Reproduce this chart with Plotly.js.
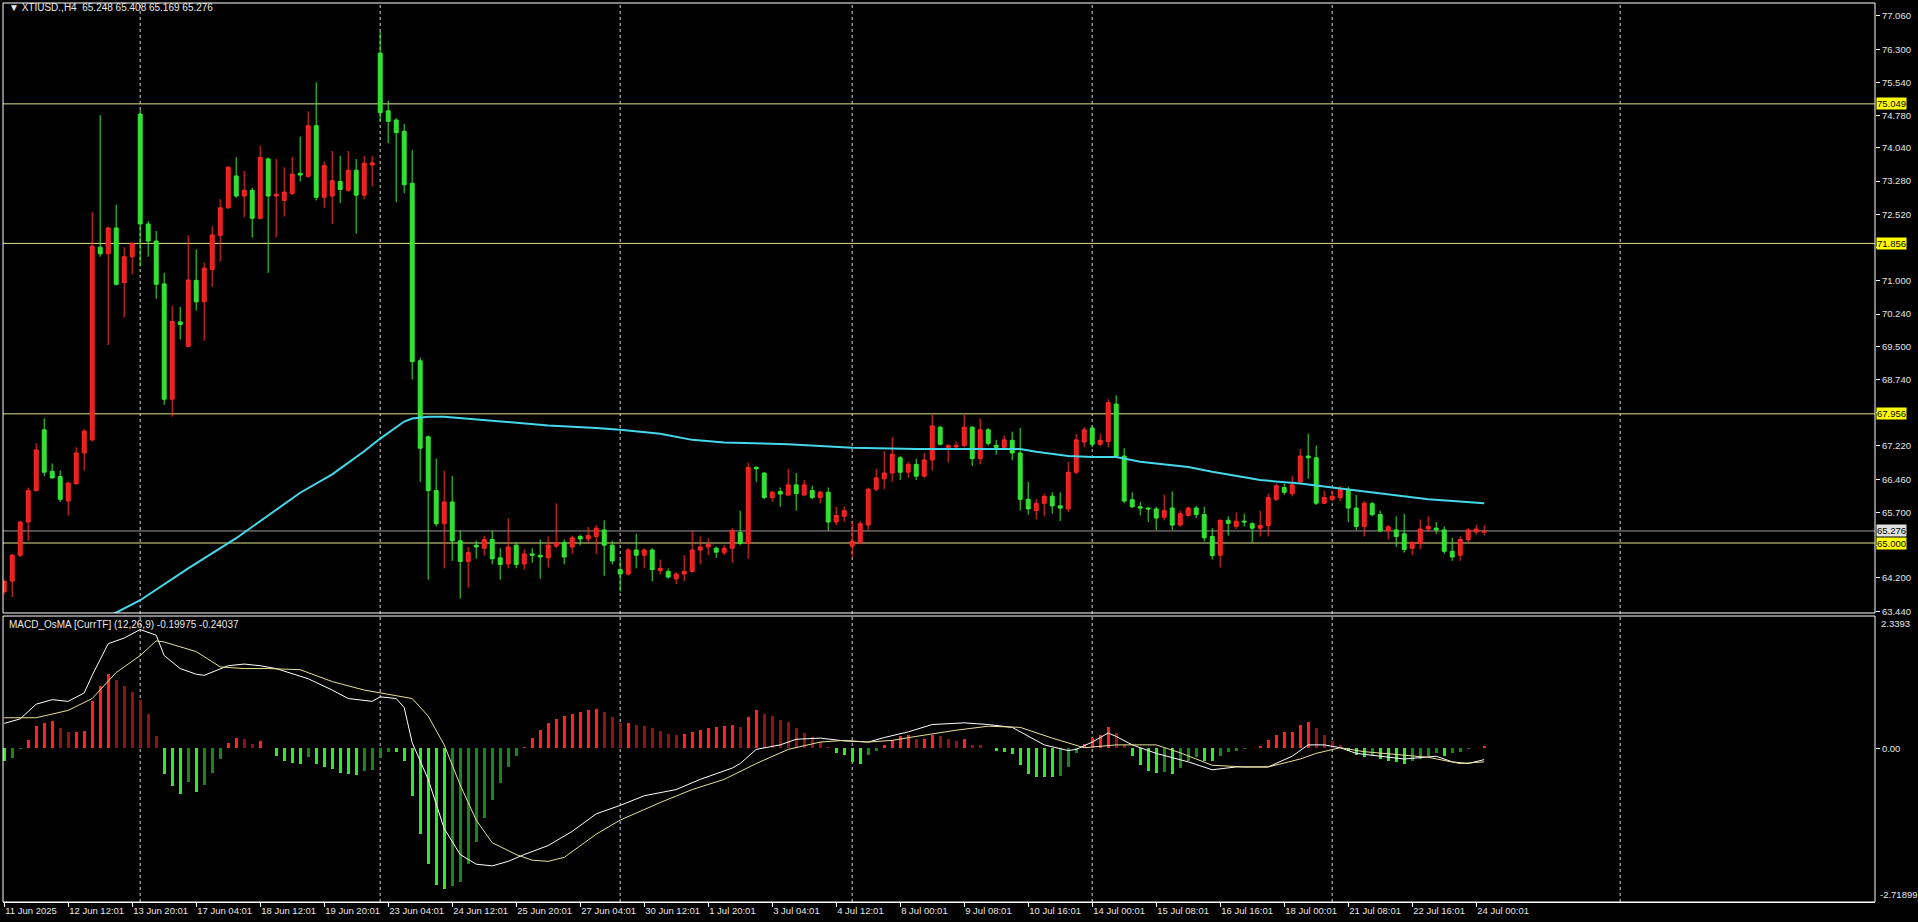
<!DOCTYPE html>
<html><head><meta charset="utf-8">
<script src="https://cdn.plot.ly/plotly-3.0.1.min.js"></script>
<style>html,body{margin:0;padding:0;background:#000;overflow:hidden}#chart{width:1918px;height:922px}</style>
</head><body><div id="chart"></div>
<script>
const symbol = 'XTIUSD.,H4';
const lastOHLC = ['65.248', '65.408', '65.169', '65.276'];
const macdTitle = 'MACD_OsMA [CurrTF] (12,26,9)';
const macdHeaderVals = ['-0.19975', '-0.24037'];

const openP = [63.89,64.13,64.72,65.48,66.20,67.59,66.64,66.52,65.96,66.36,67.06,67.36,71.77,71.62,72.21,70.96,71.55,74.81,72.30,71.91,
70.93,68.29,70.06,69.50,71.01,70.52,71.26,72.04,72.67,73.40,72.94,73.07,72.43,73.79,72.94,72.84,73.00,73.46,73.39,74.55,
72.91,72.94,73.27,73.07,73.53,72.96,73.65,76.21,74.89,74.68,74.42,73.23,69.17,67.43,66.20,65.44,65.94,65.05,64.58,64.95,
64.88,65.08,64.66,64.52,64.95,64.52,64.75,64.72,64.66,64.93,65.01,64.91,65.15,65.09,65.15,65.30,64.95,64.39,64.29,64.84,
64.72,64.84,64.37,64.35,64.18,64.29,64.35,64.84,64.91,64.88,64.78,64.88,65.24,64.99,66.73,66.60,66.04,66.18,66.10,66.33,
66.10,66.20,66.04,66.16,65.48,65.61,64.93,65.01,65.41,66.23,66.47,66.60,66.95,66.62,66.80,66.53,66.90,67.65,67.18,67.20,
67.23,67.65,66.93,67.59,67.23,67.19,67.35,67.06,66.00,65.74,65.91,66.07,65.85,65.78,66.62,67.31,67.63,67.26,67.32,68.18,
66.99,65.99,65.83,65.80,65.78,65.59,65.80,65.41,65.63,65.80,65.65,65.15,64.72,65.52,65.38,65.50,65.44,65.34,65.40,66.00,
66.27,66.13,66.40,66.99,66.95,65.91,66.00,66.04,66.23,65.80,65.38,65.90,65.65,65.28,65.30,65.21,64.88,64.99,65.32,65.34,
65.30,64.81,64.72,65.08,65.25,65.248];
const highP = [64.16,64.75,65.50,66.27,67.28,67.85,66.82,66.66,66.40,67.19,67.61,72.57,74.79,72.24,72.74,71.77,71.88,74.92,72.37,72.14,
71.18,70.43,70.40,72.04,71.72,71.42,72.25,72.87,73.62,73.83,73.52,73.13,74.09,73.82,73.79,73.60,73.83,74.30,74.88,75.54,
73.73,73.97,73.86,73.97,73.79,73.86,73.86,76.70,75.12,74.72,74.59,73.99,69.24,67.46,66.93,66.66,66.53,65.28,64.91,65.05,
65.17,65.28,64.88,65.57,65.01,64.85,64.88,65.08,65.15,65.91,65.08,65.17,65.19,65.37,65.41,65.52,65.05,64.62,64.88,65.21,
64.88,64.88,64.62,64.42,64.33,64.72,65.28,65.15,65.11,64.92,64.95,65.34,65.74,66.84,66.76,66.62,66.20,66.27,66.70,66.60,
66.44,66.31,66.20,66.27,65.83,65.83,65.48,65.50,66.27,66.70,67.10,67.42,66.99,66.86,66.93,67.06,67.94,67.68,67.26,67.32,
67.94,67.68,67.85,67.63,67.36,67.46,67.55,67.63,66.40,66.00,66.13,66.16,66.16,66.86,67.50,67.65,67.68,67.50,68.29,68.38,
67.17,66.16,65.94,65.83,65.83,66.11,66.18,65.74,65.83,65.85,65.83,65.34,65.54,65.61,65.70,65.67,65.48,65.74,66.13,66.36,
66.36,66.53,67.15,67.50,67.23,66.20,66.20,66.31,66.29,66.10,65.96,65.94,65.74,65.41,65.61,65.67,65.05,65.54,65.61,65.48,
65.38,65.12,65.15,65.34,65.41,65.408];
const lowP = [63.83,63.76,64.68,65.05,66.18,66.53,66.47,65.94,65.63,66.33,66.66,67.32,71.55,69.53,70.89,70.16,71.15,71.33,71.55,70.59,
68.16,67.89,69.66,69.48,70.32,69.63,70.86,71.44,72.65,72.90,72.45,71.99,72.41,71.18,71.99,72.47,72.96,73.27,73.36,72.84,
72.67,72.30,72.78,73.04,72.08,72.87,73.16,74.65,74.15,72.80,73.00,68.74,66.40,64.16,65.38,64.42,64.59,63.73,63.98,64.64,
64.71,64.51,64.16,64.42,64.42,64.39,64.55,64.18,64.44,64.88,64.51,64.75,64.95,65.01,64.75,64.25,64.51,63.89,64.26,64.42,
64.42,64.12,64.29,64.18,64.06,64.12,64.33,64.51,64.72,64.66,64.72,64.55,64.95,64.64,66.40,66.00,65.94,65.83,66.07,65.74,
66.07,66.00,65.91,65.28,65.41,65.48,64.68,64.97,65.30,66.18,66.23,66.40,66.44,66.49,66.44,66.49,66.66,67.23,66.84,67.13,
67.19,66.76,66.80,67.23,67.02,67.15,66.89,65.74,65.65,65.54,65.61,65.67,65.50,65.71,66.57,67.19,67.19,67.22,67.19,66.97,
65.91,65.80,65.63,65.48,65.30,65.52,65.30,65.37,65.61,65.57,65.04,64.62,64.44,65.17,65.32,65.38,65.01,65.15,65.15,65.96,
66.10,66.07,66.36,66.47,65.87,65.90,65.96,65.96,65.48,65.30,65.15,65.61,65.25,65.08,64.91,64.78,64.72,64.85,65.25,65.21,
64.75,64.59,64.59,65.01,65.19,65.169];
const closeP = [64.12,64.72,65.48,66.20,67.13,66.62,66.49,66.00,66.37,67.06,67.56,71.79,71.62,72.21,70.92,71.55,71.85,72.30,71.91,70.92,
68.29,70.07,70.00,71.02,70.52,71.29,72.05,72.67,73.60,72.94,73.07,72.43,73.82,72.94,72.98,73.03,73.44,73.42,74.55,72.91,
73.64,73.29,73.09,73.53,72.96,73.69,73.70,74.85,74.65,74.39,73.20,69.15,67.17,66.20,65.44,65.94,65.05,64.58,64.78,64.91,
65.08,64.64,64.51,64.91,64.51,64.75,64.72,64.68,64.95,65.01,64.68,65.12,65.09,65.17,65.34,64.95,64.59,64.29,64.84,64.72,
64.84,64.39,64.42,64.22,64.29,64.35,64.84,64.91,64.97,64.79,64.88,65.28,64.99,66.73,66.70,66.04,66.16,66.12,66.33,66.13,
66.33,66.04,66.16,65.48,65.63,65.74,65.04,65.44,66.23,66.49,66.60,67.03,66.62,66.80,66.53,66.90,67.68,67.26,67.23,67.23,
67.65,66.93,67.59,67.28,67.19,67.36,67.06,66.00,65.78,65.91,66.07,65.85,65.80,66.62,67.36,67.59,67.26,67.35,68.21,66.99,
65.96,65.83,65.80,65.78,65.57,65.74,65.41,65.67,65.80,65.65,65.12,64.71,65.52,65.45,65.50,65.48,65.34,65.40,66.04,66.31,
66.16,66.33,66.99,66.95,65.91,66.04,66.07,66.23,65.80,65.38,65.91,65.65,65.28,65.37,65.15,64.85,65.01,65.32,65.38,65.30,
64.81,64.68,65.08,65.30,65.32,65.276];

// moving average (read at selected bars)
const maBars = [12,17,23,29,33,37,41,45,47,50,51,53,55,61,68,74,77,82,86,90,98,106,111,114,127,129,133,136,139,142,148,151,157,162,166,172,178,185];
const maVals = [63.22,63.69,64.42,65.11,65.63,66.15,66.57,67.10,67.39,67.78,67.85,67.89,67.89,67.80,67.69,67.63,67.59,67.50,67.36,67.30,67.26,67.18,67.16,67.15,67.15,67.09,66.99,66.97,66.97,66.86,66.74,66.63,66.44,66.36,66.27,66.14,66.00,65.91];

// MACD_OsMA histogram, one value per bar
const osma = [-0.22,-0.17,-0.02,0.14,0.39,0.45,0.49,0.35,0.29,0.29,0.31,0.83,1.10,1.31,1.21,1.11,1.00,0.85,0.60,0.21,
-0.45,-0.67,-0.81,-0.60,-0.78,-0.65,-0.43,-0.19,0.09,0.18,0.17,0.08,0.13,0.01,-0.14,-0.22,-0.26,-0.27,-0.16,-0.27,
-0.33,-0.37,-0.43,-0.45,-0.47,-0.40,-0.38,-0.17,-0.07,-0.07,-0.22,-0.84,-1.52,-2.05,-2.41,-2.49,-2.44,-2.36,-2.05,-1.65,
-1.23,-0.91,-0.62,-0.33,-0.14,0.03,0.19,0.32,0.45,0.52,0.57,0.61,0.64,0.67,0.69,0.64,0.55,0.45,0.45,0.42,
0.40,0.35,0.30,0.25,0.24,0.25,0.29,0.32,0.36,0.37,0.39,0.42,0.37,0.55,0.67,0.60,0.57,0.50,0.47,0.35,
0.27,0.20,0.11,0.02,-0.09,-0.12,-0.24,-0.27,-0.12,-0.04,0.06,0.14,0.21,0.24,0.16,0.17,0.23,0.21,0.16,0.13,
0.16,0.06,0.05,0.00,-0.04,-0.06,-0.11,-0.30,-0.45,-0.50,-0.50,-0.51,-0.49,-0.33,-0.09,0.08,0.18,0.24,0.37,0.27,
0.06,-0.14,-0.30,-0.40,-0.43,-0.42,-0.45,-0.34,-0.22,-0.16,-0.22,-0.22,-0.14,-0.07,-0.04,-0.01,0.00,0.04,0.14,0.24,
0.29,0.29,0.42,0.47,0.35,0.24,0.13,0.06,-0.04,-0.12,-0.16,-0.14,-0.19,-0.22,-0.24,-0.27,-0.22,-0.19,-0.14,-0.09,
-0.14,-0.09,-0.06,-0.02,0.01,0.04];

// MACD main line (white) and signal line (yellow), read at selected bars
const macdBars = [0,2,4,6,8,10,11,13,15,17,19,20,22,24,25,28,30,32,34,37,38,41,43,46,47,49,50,51,53,55,57,59,61,63,65,68,71,74,77,80,84,87,91,92,94,97,99,102,105,108,110,113,116,120,123,126,128,130,133,134,136,138,139,141,144,148,151,154,158,161,163,165,167,169,172,175,179,181,183,185];
const macdVals = [0.44,0.52,0.78,0.86,0.83,0.98,1.29,1.85,1.95,2.10,2.00,1.64,1.41,1.31,1.29,1.46,1.49,1.46,1.41,1.27,1.23,1.03,0.88,0.83,0.91,0.88,0.72,0.10,-0.55,-1.42,-1.88,-2.05,-2.08,-2.00,-1.88,-1.72,-1.47,-1.16,-1.01,-0.84,-0.73,-0.55,-0.35,-0.27,-0.02,0.06,0.16,0.18,0.13,0.11,0.19,0.29,0.42,0.45,0.42,0.37,0.21,0.06,-0.04,-0.02,0.11,0.27,0.21,0.06,-0.09,-0.24,-0.38,-0.33,-0.33,-0.14,0.06,0.06,0.01,-0.09,-0.14,-0.19,-0.14,-0.24,-0.27,-0.20];
const sigBars = [0,4,8,11,14,17,19,20,24,27,30,33,37,41,45,49,51,53,55,57,59,61,64,66,68,70,74,77,82,86,90,94,98,102,105,108,111,114,119,123,127,131,135,139,144,147,151,155,158,162,164,167,170,174,178,182,185];
const sigVals = [0.54,0.54,0.67,0.88,1.34,1.64,1.90,1.88,1.71,1.44,1.41,1.41,1.39,1.18,1.03,0.93,0.88,0.57,0.06,-0.65,-1.27,-1.67,-1.88,-1.98,-2.00,-1.93,-1.52,-1.27,-0.96,-0.73,-0.55,-0.27,-0.02,0.11,0.14,0.11,0.14,0.21,0.32,0.39,0.37,0.18,0.01,0.06,0.06,-0.08,-0.30,-0.33,-0.33,-0.19,-0.09,0.01,-0.06,-0.11,-0.16,-0.27,-0.24];

// axis labels
const labelBars = [0,8,16,24,32,40,48,56,64,72,80,88,96,104,112,120,128,136,144,152,160,168,176,184];
const labelText = ['11 Jun 2025','12 Jun 12:01','13 Jun 20:01','17 Jun 04:01','18 Jun 12:01','19 Jun 20:01','23 Jun 04:01','24 Jun 12:01','25 Jun 20:01','27 Jun 04:01','30 Jun 12:01','1 Jul 20:01','3 Jul 04:01','4 Jul 12:01','8 Jul 00:01','9 Jul 08:01','10 Jul 16:01','14 Jul 00:01','15 Jul 08:01','16 Jul 16:01','18 Jul 00:01','21 Jul 08:01','22 Jul 16:01','24 Jul 00:01'];
const weekStartBars = [17,47,77,106,136,166,202];
const priceTicks = [77.06,76.30,75.54,74.78,74.04,73.28,72.52,71.76,71.00,70.24,69.50,68.74,67.98,67.22,66.46,65.70,64.94,64.20,63.44];
const levels = [75.049, 71.856, 67.956, 65.000];
const bidPrice = 65.276;
const macdMax = 2.3393, macdMin = -2.71899;

const idx = openP.map((_, i) => i);
const histColors = osma.map((v, i) => {
  const p = i > 0 ? osma[i - 1] : 0;
  if (v >= 0) return v >= p ? '#ff2222' : '#8e1515';
  return v <= p ? '#34e534' : '#1e851e';
});
// price labels that sit under a level's price box are covered in the reference
const priceTickText = priceTicks.map(v => levels.some(l => Math.abs(l - v) < 0.15) ? '' : v.toFixed(3));

const FONT = 'Liberation Sans, Arial, sans-serif';
const data = [
  {type:'candlestick', x:idx, open:openP, high:highP, low:lowP, close:closeP, xaxis:'x', yaxis:'y',
   increasing:{line:{color:'#ff2a2a', width:1}, fillcolor:'#ee1e1e'},
   decreasing:{line:{color:'#36ea36', width:1}, fillcolor:'#30e030'},
   whiskerwidth:0, hoverinfo:'skip'},
  {type:'scatter', mode:'lines', x:maBars, y:maVals, xaxis:'x', yaxis:'y',
   line:{color:'#45d8ea', width:2}, hoverinfo:'skip'},
  {type:'bar', x:idx, y:osma, xaxis:'x', yaxis:'y2', width:0.42,
   marker:{color:histColors, line:{width:0}}, hoverinfo:'skip'},
  {type:'scatter', mode:'lines', x:macdBars, y:macdVals, xaxis:'x', yaxis:'y2',
   line:{color:'#ffffff', width:1}, hoverinfo:'skip'},
  {type:'scatter', mode:'lines', x:sigBars, y:sigVals, xaxis:'x', yaxis:'y2',
   line:{color:'#e8e09a', width:1}, hoverinfo:'skip'}
];

const shapes = [];
weekStartBars.forEach(b => shapes.push({type:'line', layer:'below', xref:'x', yref:'paper', x0:b, x1:b, y0:0, y1:1,
  line:{color:'#d8d8d8', width:1, dash:'3px,3px'}}));
levels.forEach(v => shapes.push({type:'line', layer:'below', xref:'paper', yref:'y', x0:0, x1:1, y0:v, y1:v,
  line:{color:'#e2e28c', width:1}}));
shapes.push({type:'line', layer:'below', xref:'paper', yref:'y', x0:0, x1:1, y0:bidPrice, y1:bidPrice,
  line:{color:'#9c9c9c', width:1}});
shapes.push({type:'rect', xref:'paper', yref:'y domain', x0:0, x1:1, y0:0, y1:1, line:{color:'#ffffff', width:1}});
shapes.push({type:'rect', xref:'paper', yref:'y2 domain', x0:0, x1:1, y0:0, y1:1, line:{color:'#ffffff', width:1}});

const annotations = [];
annotations.push({xref:'paper', yref:'paper', x:0.002, y:0.9945, xanchor:'left', yanchor:'middle', showarrow:false,
  text:'\u25BC ' + symbol + '  ' + lastOHLC.join(' '), font:{family:FONT, size:10, color:'#e8e8e8'}});
annotations.push({xref:'paper', yref:'paper', x:0.002, y:0.309, xanchor:'left', yanchor:'middle', showarrow:false,
  text:macdTitle + ' ' + macdHeaderVals.join(' '), font:{family:FONT, size:10, color:'#e8e8e8'}});
levels.forEach(v => annotations.push({xref:'paper', yref:'y', x:1, y:v, xanchor:'left', yanchor:'middle', xshift:1,
  showarrow:false, text:v.toFixed(3), bgcolor:'#ffff00', borderpad:0, font:{family:FONT, size:9.5, color:'#000'}}));
annotations.push({xref:'paper', yref:'y', x:1, y:bidPrice, xanchor:'left', yanchor:'middle', xshift:1,
  showarrow:false, text:bidPrice.toFixed(3), bgcolor:'#e0e0e0', borderpad:0, font:{family:FONT, size:9.5, color:'#000'}});
annotations.push({xref:'paper', yref:'y2', x:1, y:macdMax, xanchor:'left', yanchor:'top', xshift:4, showarrow:false,
  text:String(macdMax), font:{family:FONT, size:9.5, color:'#e8e8e8'}});
annotations.push({xref:'paper', yref:'y2', x:1, y:macdMin, xanchor:'left', yanchor:'bottom', xshift:3, showarrow:false,
  text:String(macdMin), font:{family:FONT, size:9.5, color:'#e8e8e8'}});

const layout = {
  width:1918, height:922,
  paper_bgcolor:'#000000', plot_bgcolor:'#000000',
  margin:{l:3, r:43, t:3, b:20},
  showlegend:false, hovermode:false, bargap:0,
  font:{family:FONT, size:9.5, color:'#e6e6e6'},
  xaxis:{anchor:'y2', range:[-0.15, 233.85], tickvals:labelBars, ticktext:labelText,
    ticks:'outside', ticklen:4, tickcolor:'#ffffff', showgrid:false, zeroline:false,
    showline:true, linecolor:'#ffffff', ticklabelposition:'outside right',
    rangeslider:{visible:false}, fixedrange:true, tickfont:{family:FONT, size:9.5, color:'#e6e6e6'}},
  yaxis:{domain:[0.3215, 1], range:[63.399, 77.357], side:'right', anchor:'x',
    tickvals:priceTicks, ticktext:priceTickText,
    ticks:'outside', ticklen:4, tickcolor:'#ffffff', showgrid:false, zeroline:false, showline:false,
    fixedrange:true, tickfont:{family:FONT, size:9.5, color:'#e6e6e6'}},
  yaxis2:{domain:[0, 0.3181], range:[macdMin, macdMax], side:'right', anchor:'x',
    tickvals:[0], ticktext:['0.00'], ticks:'outside', ticklen:4, tickcolor:'#ffffff',
    showgrid:false, zeroline:false, showline:false, fixedrange:true,
    tickfont:{family:FONT, size:9.5, color:'#e6e6e6'}},
  shapes:shapes, annotations:annotations
};

Plotly.newPlot('chart', data, layout, {staticPlot:true, displayModeBar:false});
</script>
</body></html>
